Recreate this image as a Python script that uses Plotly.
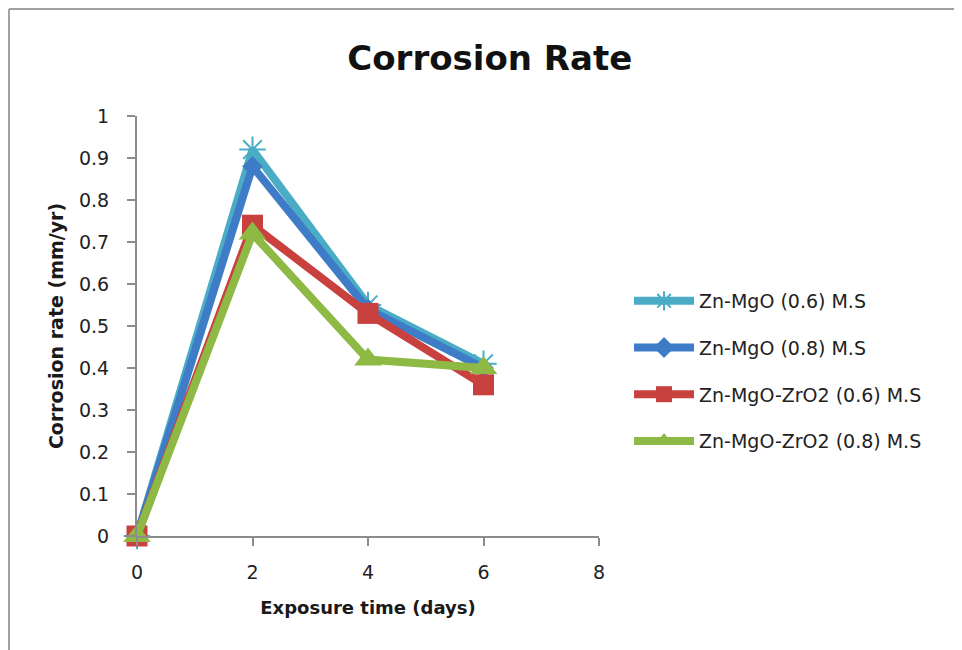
import plotly.graph_objects as go

days = [0, 2, 4, 6]
names = ["Zn-MgO (0.6) M.S", "Zn-MgO (0.8) M.S", "Zn-MgO-ZrO2 (0.6) M.S", "Zn-MgO-ZrO2 (0.8) M.S"]
zn_mgo_06 = [0, 0.92, 0.55, 0.41]
zn_mgo_08 = [0, 0.88, 0.54, 0.40]
zn_mgo_zro2_06 = [0, 0.74, 0.53, 0.36]
zn_mgo_zro2_08 = [0, 0.72, 0.42, 0.40]

series = [zn_mgo_06, zn_mgo_08, zn_mgo_zro2_06, zn_mgo_zro2_08]
colors = ["#4BACC6", "#3E7CC8", "#C9413E", "#8DB944"]
symbols = ["asterisk-open", "diamond", "square", "triangle-up"]
sizes = [22, 16, 21, 24]

font_family = "DejaVu Sans, Verdana, sans-serif"

fig = go.Figure()
for i, (nm, ys) in enumerate(zip(names, series)):
    mk = dict(symbol=symbols[i], size=sizes[i], color=colors[i])
    if symbols[i] == "asterisk-open":
        mk["line"] = dict(color=colors[i], width=2)
    fig.add_trace(go.Scatter(
        x=days, y=ys, name=nm, mode="lines+markers",
        line=dict(color=colors[i], width=8),
        marker=mk, legendgroup=f"g{i}", cliponaxis=False,
    ))

axis_color = "#8C8C8C"
W, H = 954, 642
fig.update_layout(
    width=W, height=H,
    margin=dict(l=129, r=363, t=108, b=114),
    paper_bgcolor="white", plot_bgcolor="white",
    font=dict(family=font_family, color="#1a1a1a", size=19),
    title=dict(text="<b>Corrosion Rate</b>", x=0.505, xanchor="center",
               y=0.922, yanchor="middle", font=dict(size=34, color="#111111")),
    showlegend=True,
    legend=dict(x=1.065, xanchor="left", y=0.393, yanchor="middle",
                font=dict(size=19, color="#222222"), tracegroupgap=19,
                bgcolor="rgba(0,0,0,0)", itemwidth=60),
    xaxis=dict(range=[0, 8], tickvals=[0, 2, 4, 6, 8], showgrid=False, zeroline=False,
               showline=True, linecolor=axis_color, linewidth=2,
               ticks="outside", ticklen=8, tickcolor=axis_color, tickwidth=2,
               ticklabelstandoff=10,
               tickfont=dict(size=19, color="#222222"),
               title=dict(text="<b>Exposure time (days)</b>", font=dict(size=18), standoff=20)),
    yaxis=dict(range=[0, 1], dtick=0.1, showgrid=False, zeroline=False,
               showline=True, linecolor=axis_color, linewidth=2,
               ticks="outside", ticklen=8, tickcolor=axis_color, tickwidth=2,
               ticklabelstandoff=14,
               tickfont=dict(size=19, color="#222222"),
               title=dict(text="<b>Corrosion rate (mm/yr)</b>", font=dict(size=19), standoff=10)),
    shapes=[
        dict(type="line", xref="paper", yref="paper", x0=-0.2771, x1=1.9, y0=1.2548, y1=1.2548,
             line=dict(color="#A0A0A0", width=2)),
        dict(type="line", xref="paper", yref="paper", x0=-0.2771, x1=-0.2771, y0=1.2548, y1=-0.5,
             line=dict(color="#A0A0A0", width=2)),
    ],
)

fig.write_html("out.html")
